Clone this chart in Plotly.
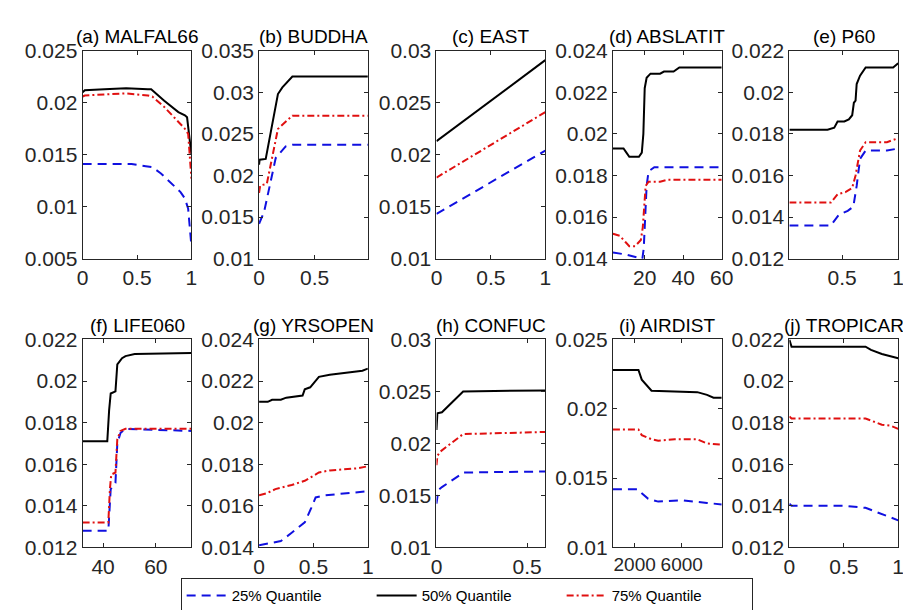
import plotly.graph_objects as go

# ---------------- data ----------------
TITLES = ["(a) MALFAL66", "(b) BUDDHA", "(c) EAST", "(d) ABSLATIT", "(e) P60",
          "(f) LIFE060", "(g) YRSOPEN", "(h) CONFUC", "(i) AIRDIST", "(j) TROPICAR"]
SERIES_NAMES = ["25% Quantile", "50% Quantile", "75% Quantile"]

# (a) MALFAL66
A_X25 = [0, 0.2, 0.45, 0.58, 0.64, 0.72, 0.8, 0.9, 0.94, 0.97, 1.0]
A_Q25 = [0.0141, 0.0141, 0.0141, 0.0139, 0.0138, 0.0132, 0.0124, 0.0114, 0.0108, 0.0098, 0.0062]
A_X50 = [0, 0.02, 0.2, 0.4, 0.6, 0.63, 0.75, 0.88, 0.94, 0.96, 1.0]
A_Q50 = [0.0210, 0.0212, 0.0213, 0.0214, 0.0213, 0.0213, 0.0202, 0.0191, 0.0188, 0.0186, 0.0150]
A_X75 = [0, 0.02, 0.2, 0.4, 0.6, 0.64, 0.75, 0.86, 0.94, 0.97, 1.0]
A_Q75 = [0.0206, 0.0207, 0.0208, 0.0209, 0.0207, 0.0206, 0.0196, 0.0184, 0.0175, 0.0170, 0.0127]

# (b) BUDDHA
B_X25 = [0, 0.045, 0.15, 0.24, 0.3, 0.98]
B_Q25 = [0.0142, 0.0156, 0.0221, 0.0235, 0.0237, 0.0237]
B_X50 = [0, 0.005, 0.06, 0.17, 0.21, 0.3, 0.98]
B_Q50 = [0.0213, 0.0219, 0.0220, 0.0298, 0.0306, 0.0319, 0.0319]
B_X75 = [0, 0.01, 0.07, 0.17, 0.3, 0.98]
B_Q75 = [0.0179, 0.0188, 0.0190, 0.0256, 0.0272, 0.0272]

# (c) EAST
C_X25 = [0, 1]
C_Q25 = [0.0143, 0.0204]
C_X50 = [0, 1]
C_Q50 = [0.0213, 0.0291]
C_X75 = [0, 1]
C_Q75 = [0.0178, 0.0241]

# (d) ABSLATIT
D_X25 = [3.5, 10, 18.8, 19.5, 21, 22, 25, 60]
D_Q25 = [0.0143, 0.0142, 0.0140, 0.0145, 0.0175, 0.0182, 0.0184, 0.0184]
D_X50 = [3.5, 9, 10.5, 12, 17, 18.5, 19.3, 20, 21, 23, 28, 30, 35, 38, 60]
D_Q50 = [0.0193, 0.0193, 0.0191, 0.0189, 0.0189, 0.0191, 0.0200, 0.0222, 0.0227,
         0.0229, 0.0229, 0.0230, 0.0230, 0.0232, 0.0232]
D_X75 = [3.5, 7, 10, 12, 15, 18, 19, 20.5, 22, 28, 32, 60]
D_Q75 = [0.0152, 0.0151, 0.0148, 0.0146, 0.0146, 0.0149, 0.0155, 0.0175, 0.0177,
         0.0177, 0.0178, 0.0178]

# (e) P60
E_X25 = [0.03, 0.4, 0.47, 0.55, 0.6, 0.63, 0.66, 0.71, 0.9, 1.0]
E_Q25 = [0.0136, 0.0136, 0.0141, 0.0143, 0.0145, 0.0155, 0.0168, 0.0172, 0.0172, 0.0173]
E_X50 = [0.03, 0.37, 0.43, 0.46, 0.52, 0.56, 0.59, 0.605, 0.62, 0.63, 0.66, 0.71, 0.955, 1.0]
E_Q50 = [0.0182, 0.0182, 0.0183, 0.0186, 0.0186, 0.0187, 0.0189, 0.0195, 0.0196,
         0.0204, 0.0208, 0.0212, 0.0212, 0.0214]
E_X75 = [0.03, 0.4, 0.46, 0.53, 0.59, 0.62, 0.66, 0.71, 0.9, 1.0]
E_Q75 = [0.0147, 0.0147, 0.0151, 0.0152, 0.0154, 0.0160, 0.0172, 0.0176, 0.0176, 0.0178]

# (f) LIFE060
F_X25 = [32.25, 42, 42.9, 44.7, 45.4, 46.6, 48.5, 73.5]
F_Q25 = [0.0128, 0.0128, 0.0148, 0.0151, 0.0170, 0.0175, 0.0177, 0.0176]
F_X50 = [32.25, 41.6, 42.3, 42.9, 44.7, 45.4, 46, 47.2, 48.5, 52, 73.5]
F_Q50 = [0.0171, 0.0171, 0.0186, 0.0194, 0.0195, 0.0208, 0.0209, 0.0211, 0.0212, 0.0213, 0.02135]
F_X75 = [32.25, 42, 42.6, 43.1, 44.7, 45.4, 46.6, 48.5, 73.5]
F_Q75 = [0.0132, 0.0132, 0.0148, 0.0155, 0.0156, 0.0172, 0.0176, 0.0177, 0.0177]

# (g) YRSOPEN
G_X25 = [0, 0.1, 0.2, 0.3, 0.42, 0.48, 0.52, 0.6, 0.8, 1.0]
G_Q25 = [0.0141, 0.0142, 0.0143, 0.0147, 0.0152, 0.0159, 0.0164, 0.0165, 0.0166, 0.0167]
G_X50 = [0, 0.08, 0.12, 0.2, 0.25, 0.4, 0.42, 0.47, 0.55, 0.65, 0.8, 0.95, 1.0]
G_Q50 = [0.0210, 0.0210, 0.0211, 0.0211, 0.0212, 0.0213, 0.0216, 0.0217, 0.0222,
         0.0223, 0.0224, 0.0225, 0.0226]
G_X75 = [0, 0.07, 0.15, 0.3, 0.42, 0.55, 0.65, 0.9, 1.0]
G_Q75 = [0.0165, 0.0166, 0.0168, 0.0170, 0.0172, 0.0176, 0.0177, 0.0178, 0.0179]

# (h) CONFUC
H_X25 = [0, 0.01, 0.03, 0.15, 0.6]
H_Q25 = [0.0142, 0.0155, 0.0158, 0.0172, 0.0173]
H_X50 = [0, 0.005, 0.03, 0.147, 0.6]
H_Q50 = [0.0213, 0.0229, 0.0230, 0.0250, 0.0251]
H_X75 = [0, 0.005, 0.02, 0.147, 0.6]
H_Q75 = [0.0179, 0.0188, 0.0192, 0.0209, 0.0211]

# (i) AIRDIST
I_X25 = [150, 2200, 2600, 3150, 4000, 6000, 8150, 9400]
I_Q25 = [0.0142, 0.0142, 0.0139, 0.0135, 0.0133, 0.0134, 0.0132, 0.0131]
I_X50 = [150, 2320, 2600, 3000, 3430, 7320, 8150, 8700, 9400]
I_Q50 = [0.0228, 0.0228, 0.0221, 0.0217, 0.0213, 0.0212, 0.0210, 0.0208, 0.0208]
I_X75 = [150, 2320, 2600, 3430, 4000, 5400, 7320, 8150, 9400]
I_Q75 = [0.0185, 0.0185, 0.0181, 0.0178, 0.0177, 0.0178, 0.0178, 0.0175, 0.0174]

# (j) TROPICAR
J_X25 = [0, 0.02, 0.5, 0.7, 1.0]
J_Q25 = [0.0141, 0.0140, 0.0140, 0.0139, 0.0133]
J_X50 = [0, 0.02, 0.7, 0.75, 0.85, 0.93, 1.0]
J_Q50 = [0.0220, 0.02165, 0.02165, 0.0215, 0.0213, 0.0212, 0.0211]
J_X75 = [0, 0.02, 0.7, 0.75, 0.85, 0.93, 1.0]
J_Q75 = [0.0183, 0.0182, 0.0182, 0.0181, 0.0179, 0.01785, 0.0177]

# axis ranges and ticks
X_RANGES = [[0, 1], [0, 0.98], [0, 1], [3.5, 60], [0.03, 1],
            [32.25, 73.5], [0, 1], [0, 0.6], [150, 9400], [0, 1]]
X_TICKS = [[0, 0.5, 1], [0, 0.5], [0, 0.5, 1], [20, 40, 60], [0.5, 1],
           [40, 60], [0, 0.5, 1], [0, 0.5], [2000, 6000], [0, 0.5, 1]]
X_TICKTEXT = [["0", "0.5", "1"], ["0", "0.5"], ["0", "0.5", "1"], ["20", "40", "60"], ["0.5", "1"],
              ["40", "60"], ["0", "0.5", "1"], ["0", "0.5"], ["2000", "6000"], ["0", "0.5", "1"]]
Y_RANGES = [[0.005, 0.025], [0.01, 0.035], [0.01, 0.03], [0.014, 0.024], [0.012, 0.022],
            [0.012, 0.022], [0.014, 0.024], [0.01, 0.03], [0.01, 0.025], [0.012, 0.022]]
Y_TICKS = [[0.005, 0.01, 0.015, 0.02, 0.025],
           [0.01, 0.015, 0.02, 0.025, 0.03, 0.035],
           [0.01, 0.015, 0.02, 0.025, 0.03],
           [0.014, 0.016, 0.018, 0.02, 0.022, 0.024],
           [0.012, 0.014, 0.016, 0.018, 0.02, 0.022],
           [0.012, 0.014, 0.016, 0.018, 0.02, 0.022],
           [0.014, 0.016, 0.018, 0.02, 0.022, 0.024],
           [0.01, 0.015, 0.02, 0.025, 0.03],
           [0.01, 0.015, 0.02, 0.025],
           [0.012, 0.014, 0.016, 0.018, 0.02, 0.022]]

PANELS = [
    (A_X25, A_Q25, A_X50, A_Q50, A_X75, A_Q75),
    (B_X25, B_Q25, B_X50, B_Q50, B_X75, B_Q75),
    (C_X25, C_Q25, C_X50, C_Q50, C_X75, C_Q75),
    (D_X25, D_Q25, D_X50, D_Q50, D_X75, D_Q75),
    (E_X25, E_Q25, E_X50, E_Q50, E_X75, E_Q75),
    (F_X25, F_Q25, F_X50, F_Q50, F_X75, F_Q75),
    (G_X25, G_Q25, G_X50, G_Q50, G_X75, G_Q75),
    (H_X25, H_Q25, H_X50, H_Q50, H_X75, H_Q75),
    (I_X25, I_Q25, I_X50, I_Q50, I_X75, I_Q75),
    (J_X25, J_Q25, J_X50, J_Q50, J_X75, J_Q75),
]

# ---------------- layout / styling ----------------
W, H = 911, 610
FONT = "Liberation Sans, Arial, sans-serif"
AXC = "#262626"
COL_LEFT = [70, 250, 431, 611, 791]
PW = 111
ROW_TOP = [32, 332]
PH = 216

STYLES = [
    dict(color="#1010e0", width=2, dash="9px,6px"),
    dict(color="#000000", width=2, dash="solid"),
    dict(color="#e01010", width=2, dash="7px,3px,2px,3px"),
]

fig = go.Figure()
layout = {}
annotations = []

for i, p in enumerate(PANELS):
    k = i + 1
    xa = "x" if k == 1 else f"x{k}"
    ya = "y" if k == 1 else f"y{k}"
    for s in range(3):
        fig.add_trace(go.Scatter(
            x=p[2 * s], y=p[2 * s + 1], mode="lines", name=SERIES_NAMES[s],
            line=STYLES[s], showlegend=(i == 0), legendrank=s + 1,
            xaxis=xa, yaxis=ya, hoverinfo="skip"))
    row, col = divmod(i, 5)
    x0 = COL_LEFT[col] / W
    x1 = (COL_LEFT[col] + PW) / W
    y1 = 1 - ROW_TOP[row] / H
    y0 = 1 - (ROW_TOP[row] + PH) / H
    common = dict(showline=True, linecolor=AXC, linewidth=1, mirror="allticks",
                  ticks="inside", ticklen=4, tickcolor=AXC, tickwidth=1,
                  showgrid=False, zeroline=False, tickangle=0)
    xfont = 19 if TITLES[i].startswith("(i)") else 21
    layout["xaxis" if k == 1 else f"xaxis{k}"] = dict(
        domain=[x0, x1], anchor=ya, range=X_RANGES[i], tickmode="array",
        tickvals=X_TICKS[i], ticktext=X_TICKTEXT[i],
        tickfont=dict(family=FONT, size=xfont, color=AXC), **common)
    layout["yaxis" if k == 1 else f"yaxis{k}"] = dict(
        domain=[y0, y1], anchor=xa, range=Y_RANGES[i], tickmode="array",
        tickvals=Y_TICKS[i], ticktext=[f"{v:g}" for v in Y_TICKS[i]],
        tickfont=dict(family=FONT, size=21, color=AXC), **common)
    annotations.append(dict(
        text=TITLES[i], xref="paper", yref="paper",
        x=(x0 + x1) / 2, y=y1 + 2 / H, xanchor="center", yanchor="bottom",
        showarrow=False, font=dict(family=FONT, size=19, color="#000000")))

fig.update_layout(**layout)
fig.update_layout(
    width=W, height=H, margin=dict(l=0, r=0, t=0, b=0),
    paper_bgcolor="white", plot_bgcolor="white",
    annotations=annotations,
    showlegend=True,
    legend=dict(orientation="h", x=170 / W, y=1 - 580 / H, xanchor="left", yanchor="top",
                bordercolor=AXC, borderwidth=1, bgcolor="white",
                font=dict(family=FONT, size=15, color="#000000"),
                entrywidth=135, tracegroupgap=0, itemwidth=40,
                traceorder="normal"),
)

fig.write_html("out.html")
